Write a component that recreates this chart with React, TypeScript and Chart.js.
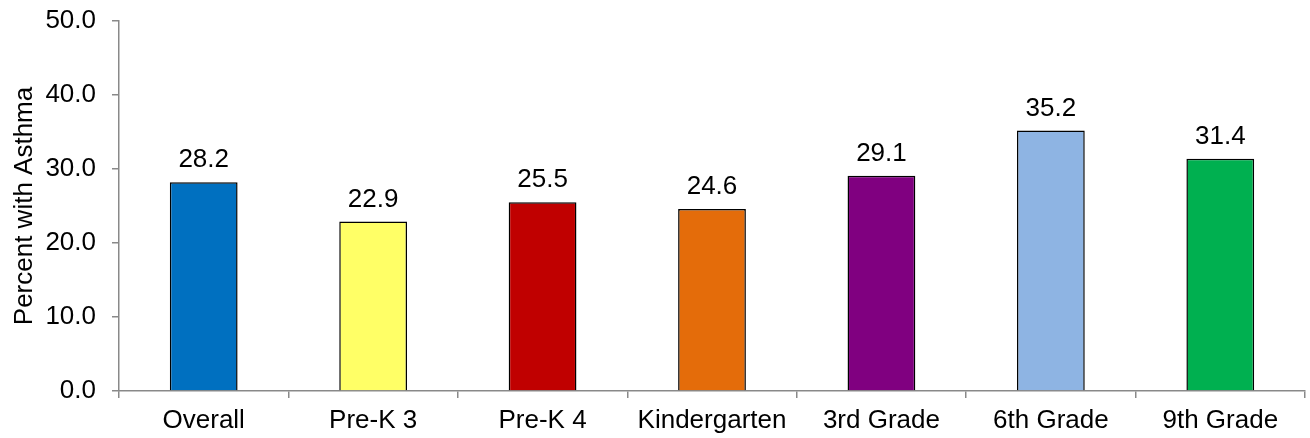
import React, { useEffect, useRef } from "react";
import { Chart, registerables } from "chart.js";

Chart.register(...registerables);

const categories = ["Overall", "Pre-K 3", "Pre-K 4", "Kindergarten", "3rd Grade", "6th Grade", "9th Grade"];
const values = [28.2, 22.9, 25.5, 24.6, 29.1, 35.2, 31.4];
const barColors = ["#0070C0", "#FFFF66", "#C00000", "#E46C0A", "#800080", "#8EB4E3", "#00B050"];
const yTitle = "Percent with Asthma";
const FONT = "'Liberation Sans', Arial, sans-serif";
const FS = 26;

const valueLabels = {
  id: "valueLabels",
  afterDatasetsDraw(chart: any) {
    const ctx = chart.ctx;
    const meta = chart.getDatasetMeta(0);
    ctx.save();
    ctx.font = `${FS}px ${FONT}`;
    ctx.fillStyle = "#000";
    ctx.textAlign = "center";
    ctx.textBaseline = "alphabetic";
    meta.data.forEach((el: any, i: number) => {
      ctx.fillText(values[i].toFixed(1), el.x, el.y - 15);
    });
    ctx.restore();
  },
};

export default function App() {
  const ref = useRef<HTMLCanvasElement>(null);
  useEffect(() => {
    document.body.style.margin = "0";
    const chart = new Chart(ref.current!, {
      type: "bar",
      data: {
        labels: categories,
        datasets: [
          {
            data: values,
            backgroundColor: barColors,
            borderColor: "#000",
            borderWidth: 1.5,
            barPercentage: 0.4,
            categoryPercentage: 1,
          },
        ],
      },
      options: {
        animation: false,
        responsive: false,
        maintainAspectRatio: false,
        layout: { padding: { top: 21, right: 5, left: 0, bottom: 0 } },
        plugins: { legend: { display: false }, tooltip: { enabled: false } },
        scales: {
          x: {
            offset: true,
            grid: { offset: true, drawOnChartArea: false, drawTicks: true, tickLength: 7, color: "#898989", lineWidth: 1.5 },
            border: { color: "#898989", width: 1.5 },
            ticks: { color: "#000", font: { family: FONT, size: FS }, padding: 7, maxRotation: 0, autoSkip: false },
            afterFit(scale: any) { scale.height = 47; scale.paddingLeft = 0; scale.paddingRight = 0; },
          },
          y: {
            min: 0,
            max: 50,
            grid: { drawOnChartArea: false, drawTicks: true, tickLength: 7, color: "#898989", lineWidth: 1.5 },
            border: { color: "#898989", width: 1.5 },
            ticks: {
              stepSize: 10,
              color: "#000",
              font: { family: FONT, size: FS },
              padding: 16,
              callback: (v: any) => Number(v).toFixed(1),
            },
            title: { display: true, text: yTitle, color: "#000", font: { family: FONT, size: FS }, padding: { top: 9, bottom: 0 } },
            afterFit(scale: any) { scale.width = 119; scale.paddingTop = 0; scale.paddingBottom = 0; },
          },
        },
      },
      plugins: [valueLabels],
    });
    return () => chart.destroy();
  }, []);
  return (
    <div style={{ width: 1310, height: 438 }}>
      <canvas ref={ref} width={1310} height={438} />
    </div>
  );
}
